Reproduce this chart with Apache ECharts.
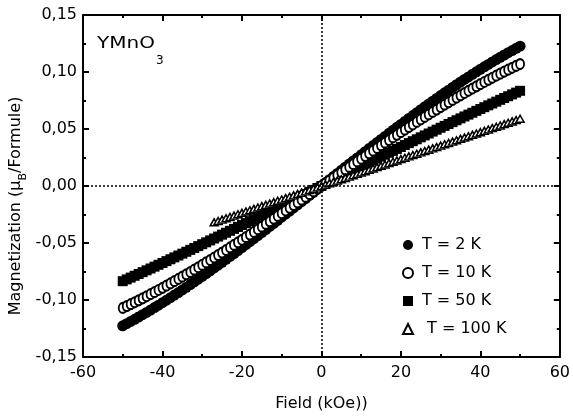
<!DOCTYPE html>
<html><head><meta charset="utf-8">
<script src="https://cdn.jsdelivr.net/npm/echarts@6/dist/echarts.min.js"></script>
<style>html,body{margin:0;padding:0;background:#fff}#c{width:573px;height:419px}</style>
</head><body><div id="c"></div>
<script>
// Field values (kOe) of the measurement points
const field = [-50,-49,-48,-47,-46,-45,-44,-43,-42,-41,-40,-39,-38,-37,-36,-35,-34,-33,-32,-31,
-30,-29,-28,-27,-26,-25,-24,-23,-22,-21,-20,-19,-18,-17,-16,-15,-14,-13,-12,-11,
-10,-9,-8,-7,-6,-5,-4,-3,-2,-1,0,1,2,3,4,5,6,7,8,9,10,11,12,13,14,15,16,17,18,19,20,
21,22,23,24,25,26,27,28,29,30,31,32,33,34,35,36,37,38,39,40,41,42,43,44,45,46,47,48,49,50];

const m2K = [-0.12263,-0.12075,-0.11884,-0.11690,-0.11492,-0.11291,-0.11086,-0.10879,-0.10668,-0.10455,
-0.10238,-0.10019,-0.09797,-0.09572,-0.09345,-0.09115,-0.08882,-0.08647,-0.08410,-0.08171,
-0.07929,-0.07685,-0.07439,-0.07191,-0.06941,-0.06689,-0.06436,-0.06180,-0.05923,-0.05665,
-0.05405,-0.05143,-0.04881,-0.04617,-0.04351,-0.04085,-0.03817,-0.03549,-0.03279,-0.03009,
-0.02738,-0.02466,-0.02194,-0.01921,-0.01647,-0.01374,-0.01099,-0.00825,-0.00550,-0.00275,
0,
0.00275,0.00550,0.00825,0.01099,0.01374,0.01647,0.01921,0.02194,0.02466,0.02738,
0.03009,0.03279,0.03549,0.03817,0.04085,0.04351,0.04617,0.04881,0.05143,0.05405,
0.05665,0.05923,0.06180,0.06436,0.06689,0.06941,0.07191,0.07439,0.07685,0.07929,
0.08171,0.08410,0.08647,0.08882,0.09115,0.09345,0.09572,0.09797,0.10019,0.10238,
0.10455,0.10668,0.10879,0.11086,0.11291,0.11492,0.11690,0.11884,0.12075,0.12263];

const m10K = [-0.10700,-0.10536,-0.10370,-0.10200,-0.10028,-0.09852,-0.09674,-0.09493,-0.09310,-0.09123,
-0.08934,-0.08743,-0.08549,-0.08353,-0.08155,-0.07954,-0.07751,-0.07546,-0.07339,-0.07130,
-0.06919,-0.06706,-0.06492,-0.06275,-0.06057,-0.05838,-0.05616,-0.05393,-0.05169,-0.04944,
-0.04717,-0.04489,-0.04259,-0.04029,-0.03797,-0.03565,-0.03331,-0.03097,-0.02862,-0.02626,
-0.02390,-0.02152,-0.01915,-0.01676,-0.01438,-0.01199,-0.00959,-0.00720,-0.00480,-0.00240,
0,
0.00240,0.00480,0.00720,0.00959,0.01199,0.01438,0.01676,0.01915,0.02152,0.02390,
0.02626,0.02862,0.03097,0.03331,0.03565,0.03797,0.04029,0.04259,0.04489,0.04717,
0.04944,0.05169,0.05393,0.05616,0.05838,0.06057,0.06275,0.06492,0.06706,0.06919,
0.07130,0.07339,0.07546,0.07751,0.07954,0.08155,0.08353,0.08549,0.08743,0.08934,
0.09123,0.09310,0.09493,0.09674,0.09852,0.10028,0.10200,0.10370,0.10536,0.10700];

const m50K = [-0.08350,-0.08193,-0.08035,-0.07876,-0.07717,-0.07558,-0.07398,-0.07237,-0.07076,-0.06914,
-0.06752,-0.06589,-0.06426,-0.06263,-0.06099,-0.05934,-0.05769,-0.05604,-0.05438,-0.05272,
-0.05106,-0.04939,-0.04772,-0.04605,-0.04437,-0.04269,-0.04100,-0.03932,-0.03763,-0.03593,
-0.03424,-0.03254,-0.03084,-0.02914,-0.02744,-0.02573,-0.02403,-0.02232,-0.02061,-0.01889,
-0.01718,-0.01547,-0.01375,-0.01203,-0.01032,-0.00860,-0.00688,-0.00516,-0.00344,-0.00172,
0,
0.00172,0.00344,0.00516,0.00688,0.00860,0.01032,0.01203,0.01375,0.01547,0.01718,
0.01889,0.02061,0.02232,0.02403,0.02573,0.02744,0.02914,0.03084,0.03254,0.03424,
0.03593,0.03763,0.03932,0.04100,0.04269,0.04437,0.04605,0.04772,0.04939,0.05106,
0.05272,0.05438,0.05604,0.05769,0.05934,0.06099,0.06263,0.06426,0.06589,0.06752,
0.06914,0.07076,0.07237,0.07398,0.07558,0.07717,0.07876,0.08035,0.08193,0.08350];

// T = 100 K is measured from -27 kOe to 50 kOe
const field100 = field.slice(23);
const m100K = [-0.03186,-0.03068,-0.02950,-0.02832,-0.02714,-0.02596,-0.02478,-0.02360,-0.02242,-0.02124,
-0.02006,-0.01888,-0.01770,-0.01652,-0.01534,-0.01416,-0.01298,-0.01180,-0.01062,-0.00944,
-0.00826,-0.00708,-0.00590,-0.00472,-0.00354,-0.00236,-0.00118,
0,
0.00118,0.00236,0.00354,0.00472,0.00590,0.00708,0.00826,0.00944,0.01062,0.01180,
0.01298,0.01416,0.01534,0.01652,0.01770,0.01888,0.02006,0.02124,0.02242,0.02360,
0.02478,0.02596,0.02714,0.02832,0.02950,0.03068,0.03186,0.03304,0.03422,0.03540,
0.03658,0.03776,0.03894,0.04012,0.04130,0.04248,0.04366,0.04484,0.04602,0.04720,
0.04838,0.04956,0.05074,0.05192,0.05310,0.05428,0.05546,0.05664,0.05782,0.05900];

const seriesNames = ['T = 2 K','T = 10 K','T = 50 K','T = 100 K'];
const xRange = {min:-60, max:60, interval:20};
const yRange = {min:-0.15, max:0.15, interval:0.05};

const FONT = 'DejaVu Sans';
const pair = (xs, ys) => xs.map((x, i) => [x, ys[i]]);

function axisBase(r) {
  return {
    type:'value', min:r.min, max:r.max, interval:r.interval,
    axisLine:{show:true, onZero:false, lineStyle:{color:'#000', width:2}},
    axisTick:{show:true, inside:true, length:6, lineStyle:{color:'#000', width:2}},
    minorTick:{show:true, splitNumber:2, length:3, lineStyle:{color:'#000', width:2}},
    splitLine:{show:false}, minorSplitLine:{show:false}
  };
}

const chart = echarts.init(document.getElementById('c'), null, {renderer:'canvas'});
chart.setOption({
  animation:false,
  backgroundColor:'#fff',
  grid:{left:83, right:11, top:15, bottom:62},
  xAxis:[
    Object.assign(axisBase(xRange), {position:'bottom',
      name:'Field (kOe))', nameLocation:'middle', nameGap:39,
      nameTextStyle:{color:'#000', fontFamily:FONT, fontSize:16},
      axisLabel:{color:'#000', fontFamily:FONT, fontSize:16, margin:8}}),
    Object.assign(axisBase(xRange), {position:'top', axisLabel:{show:false}})
  ],
  yAxis:[
    Object.assign(axisBase(yRange), {position:'left',
      axisLabel:{color:'#000', fontFamily:FONT, fontSize:16, margin:6,
        formatter: v => (Math.abs(v) < 1e-9 ? 0 : v).toFixed(2).replace('.', ',')}}),
    Object.assign(axisBase(yRange), {position:'right', axisLabel:{show:false}})
  ],
  legend:{
    orient:'vertical', left:397, top:228, itemWidth:10, itemHeight:10, itemGap:4,
    textStyle:{color:'#000', fontFamily:FONT, fontSize:16, lineHeight:16, padding:[0,0,8,4]},
    formatter: n => n === 'T = 100 K' ? ' ' + n : n,
    data: seriesNames
  },
  graphic:[
    {type:'text', x:97, y:44, scaleX:1.25,
     style:{text:'YMnO', fontFamily:FONT, fontSize:16, fill:'#000', verticalAlign:'middle', textVerticalAlign:'middle'}},
    {type:'text', x:156, y:61,
     style:{text:'3', fontFamily:FONT, fontSize:12, fill:'#000', verticalAlign:'middle', textVerticalAlign:'middle'}},
    {type:'text', x:19, y:206, rotation:Math.PI/2,
     style:{text:'{m|Magnetization (μ}{b|B}{m|/Formule)}',
       align:'center', verticalAlign:'middle', textAlign:'center', textVerticalAlign:'middle',
       rich:{
         m:{fontFamily:FONT, fontSize:16, fill:'#000', lineHeight:20, padding:[0,0,5,0], verticalAlign:'bottom'},
         b:{fontFamily:FONT, fontSize:11, fill:'#000', lineHeight:12, verticalAlign:'bottom'}
       }}}
  ],
  series:[
    {type:'line', data:[], z:1, silent:true,
     markLine:{silent:true, symbol:['none','none'], label:{show:false},
       lineStyle:{color:'#000', type:[2,2], width:1.5},
       data:[{xAxis:0},{yAxis:0}]}},
    {name:seriesNames[0], type:'scatter', z:2, symbol:'circle', symbolSize:11,
     itemStyle:{color:'#000', opacity:1}, data:pair(field, m2K)},
    {name:seriesNames[2], type:'scatter', z:2, symbol:'rect', symbolSize:10,
     itemStyle:{color:'#000', opacity:1}, data:pair(field, m50K)},
    {name:seriesNames[1], type:'scatter', z:3, symbol:'circle', symbolSize:[8,10],
     itemStyle:{color:'#fff', borderColor:'#000', borderWidth:2, opacity:1}, data:pair(field, m10K)},
    {name:seriesNames[3], type:'scatter', z:4, symbol:'triangle', symbolSize:[8,7],
     itemStyle:{color:'#fff', borderColor:'#000', borderWidth:1.5, opacity:1}, data:pair(field100, m100K)}
  ]
});
</script></body></html>
